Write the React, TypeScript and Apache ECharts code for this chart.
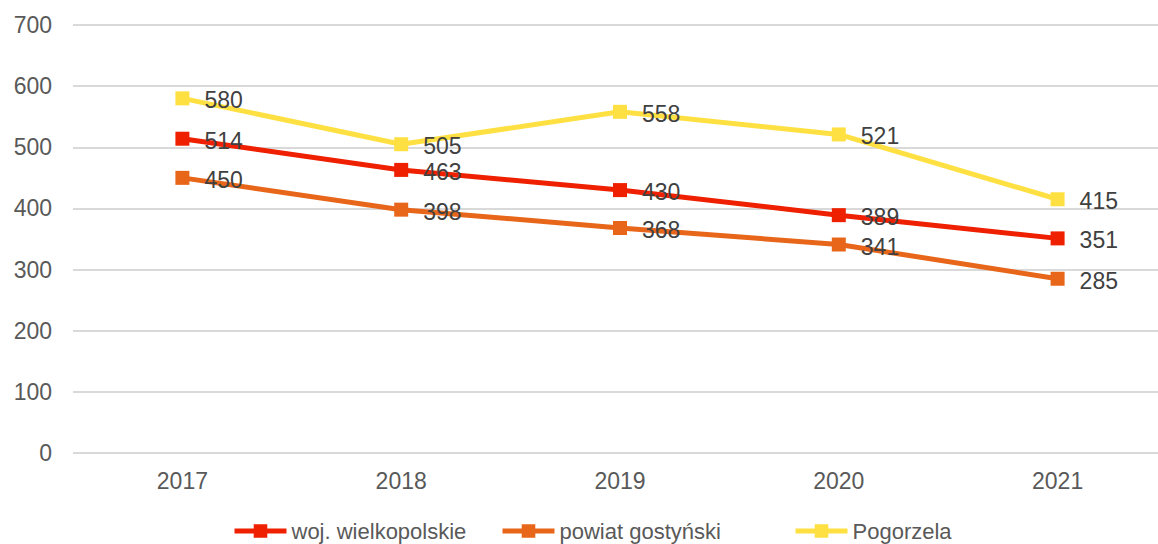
import React, { useEffect, useRef } from "react";
import * as echarts from "echarts";

const years = ["2017", "2018", "2019", "2020", "2021"];
const wojWielkopolskie = [514, 463, 430, 389, 351];
const powiatGostynski = [450, 398, 368, 341, 285];
const pogorzela = [580, 505, 558, 521, 415];

const seriesNames = ["woj. wielkopolskie", "powiat gostyński", "Pogorzela"];
const seriesColors = ["#EE2000", "#E8661A", "#FFE043"];
const legendLefts = [232, 500, 793];

const FONT = "'Liberation Sans', Arial, sans-serif";

export default function App() {
  const ref = useRef<HTMLDivElement>(null);

  useEffect(() => {
    if (!ref.current) return;
    const chart = echarts.init(ref.current, undefined, { renderer: "svg" });
    const values = [wojWielkopolskie, powiatGostynski, pogorzela];

    const series = values.map((data, i) => ({
      name: seriesNames[i],
      type: "line",
      data,
      symbol: "rect",
      symbolSize: 14,
      z: 10 - i,
      lineStyle: { width: 5, color: seriesColors[i] },
      itemStyle: { color: seriesColors[i] },
      label: {
        show: true,
        position: "right",
        distance: 15,
        offset: [0, 2],
        fontFamily: FONT,
        fontSize: 23,
        color: "#404040",
      },
    }));

    const legends = seriesNames.map((name, i) => ({
      data: [name],
      left: legendLefts[i],
      top: 520,
      padding: 0,
      itemWidth: 52,
      itemHeight: 17,
      itemGap: 0,
      itemTextGap: 4,
      lineStyle: { width: 5 },
      textStyle: { fontFamily: FONT, fontSize: 22, color: "#595959" },
    }));

    chart.setOption({
      animation: false,
      backgroundColor: "#ffffff",
      grid: { left: 73, right: 0, top: 25, bottom: 91, containLabel: false },
      legend: legends,
      xAxis: {
        type: "category",
        data: years,
        boundaryGap: true,
        axisLine: { show: false },
        axisTick: { show: false },
        axisLabel: {
          margin: 16,
          fontFamily: FONT,
          fontSize: 23,
          color: "#595959",
        },
      },
      yAxis: {
        type: "value",
        min: 0,
        max: 700,
        interval: 100,
        axisLine: { show: false },
        axisTick: { show: false },
        splitLine: { lineStyle: { color: "#D9D9D9", width: 2 } },
        axisLabel: {
          margin: 21,
          fontFamily: FONT,
          fontSize: 23,
          color: "#595959",
        },
      },
      series,
    });

    return () => chart.dispose();
  }, []);

  // The plot runs a little past the right edge of the window, as the
  // last category band is cut off there.
  return (
    <div
      ref={ref}
      style={{ position: "fixed", left: 0, top: 0, width: 1167, height: 544 }}
    />
  );
}
